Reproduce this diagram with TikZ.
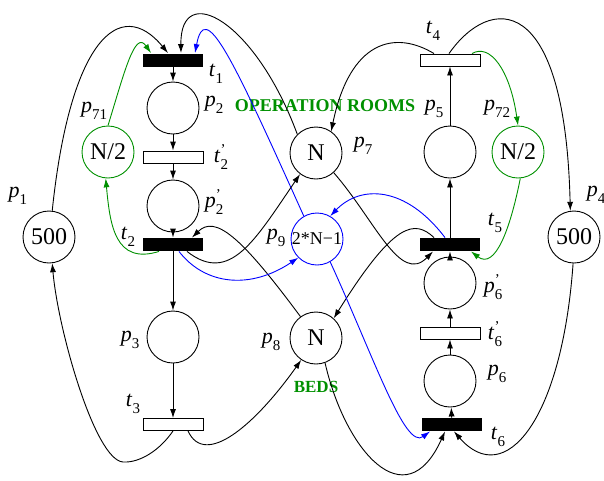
\documentclass[tikz,border=0pt]{standalone}
\usepackage{fontspec}
\setmainfont{Liberation Serif}
\usetikzlibrary{arrows.meta}
\definecolor{fgreen}{RGB}{0,144,0}
\definecolor{fblue}{RGB}{0,0,255}
\newcommand{\lbl}[3][]{\textit{#2}\makebox[0pt][l]{\raisebox{0.38em}{\fontsize{15}{15}\selectfont #1}}\raisebox{-0.3em}{\fontsize{15}{15}\selectfont #3}}
\begin{document}
\begin{tikzpicture}[x=1pt,y=-1pt,line width=0.9pt,>={Latex[length=9pt,width=6pt]},
  place/.style={circle,draw,minimum size=52pt,inner sep=0pt,font=\fontsize{24}{28}\selectfont},
  bar/.style={rectangle,fill=black,minimum width=60pt,minimum height=13pt,inner sep=0pt},
  tbox/.style={rectangle,draw,fill=white,minimum width=60pt,minimum height=12pt,inner sep=0pt},
  lab/.style={font=\fontsize{22}{26}\selectfont,inner sep=0pt},
  gtext/.style={text=fgreen,font=\fontsize{18}{20}\selectfont\bfseries,inner sep=0pt}]
\useasboundingbox (0,0) rectangle (604,480);
% left column
\node[bar] (t1) at (173,60) {};
\node[place] (p2) at (173,108) {};
\node[tbox] (t2p) at (173,157) {};
\node[place] (p2p) at (173,206) {};
\node[bar] (t2) at (173,244.5) {};
\node[place] (p3) at (173,337) {};
\node[tbox] (t3) at (173,424.5) {};
\node[place] (p1) at (49,237) {500};
\node[place,draw=fgreen] (p71) at (108,152) {N/2};
% middle
\node[place] (p7) at (316,153) {N};
\node[place,draw=fblue,font=\fontsize{18}{20}\selectfont] (p9) at (317,239) {2*N−1};
\node[place] (p8) at (316,338) {N};
% right column
\node[tbox] (t4) at (450,60) {};
\node[place] (p5) at (450,152) {};
\node[bar] (t5) at (450,244.5) {};
\node[place] (p6p) at (450,283) {};
\node[tbox] (t6p) at (450,333) {};
\node[place] (p6) at (450,381) {};
\node[bar] (t6) at (452,424.5) {};
\node[place,draw=fgreen] (p72) at (518,152) {N/2};
\node[place] (p4) at (574,237) {500};
% labels
\node[lab] (lt1) at (216,74) {\lbl{t}{1}};
\node[lab] (lp2) at (214,105) {\lbl{p}{2}};
\node[lab] (lt2p) at (221,157) {\lbl[’]{t}{2}};
\node[lab] (lp2p) at (214,202) {\lbl[’]{p}{2}};
\node[lab] (lt2) at (128,237) {\lbl{t}{2}};
\node[lab] (lp71) at (94,111) {\lbl{p}{71}};
\node[lab] (lp1) at (18,196) {\lbl{p}{1}};
\node[lab] (lp3) at (130,340) {\lbl{p}{3}};
\node[lab] (lt3) at (133,404) {\lbl{t}{3}};
\node[lab] (lp8) at (271,342) {\lbl{p}{8}};
\node[lab] (lp9) at (276,238) {\lbl{p}{9}};
\node[lab] (lp7) at (363,146) {\lbl{p}{7}};
\node[lab] (lt4) at (433,31) {\lbl{t}{4}};
\node[lab] (lp5) at (434,109) {\lbl{p}{5}};
\node[lab] (lp72) at (497,109) {\lbl{p}{72}};
\node[lab] (lp4) at (596,195) {\lbl{p}{4}};
\node[lab] (lt5) at (495,223) {\lbl{t}{5}};
\node[lab] (lp6p) at (493,287) {\lbl[’]{p}{6}};
\node[lab] (lt6p) at (495,334) {\lbl[’]{t}{6}};
\node[lab] (lp6) at (497,374) {\lbl{p}{6}};
\node[lab] (lt6) at (498,437) {\lbl{t}{6}};
\node[gtext] (ops) at (325,106) {OPERATION ROOMS};
\node[gtext,font=\fontsize{17}{20}\selectfont\bfseries] (beds) at (316,387) {BEDS};
% vertical arcs
\draw[->] (t1) -- (p2);
\draw[->] (p2) -- (t2p);
\draw[->] (t2p) -- (p2p);
\draw[->] (p2p) -- (t2);
\draw[->] (t2) -- (p3);
\draw[->] (p3) -- (t3);
\draw[->] (t6) -- (p6);
\draw[->] (p6) -- (t6p);
\draw[->] (t6p) -- (p6p);
\draw[->] (p6p) -- (t5);
\draw[->] (t5) -- (p5);
\draw[->] (p5) -- (t4);
% curved arcs
\draw[->] (p1.83) .. controls (70,40) and (120,-5) .. ([xshift=-5pt]t1.north);
\draw[->] (p7.135) .. controls (255,20) and (180,-20) .. ([xshift=8pt]t1.north);
\draw[->,fblue] (p9.120) .. controls (230,52) and (205,0) .. ([xshift=22pt]t1.north);
\draw[->,fgreen] (p71.north) .. controls (125,70) and (135,30) .. ([xshift=-22pt]t1.north);
\draw[->,fgreen] ([xshift=-14pt]t2.south) .. controls (115,265) and (110,225) .. (p71.265);
\draw[->] ([xshift=14pt]t2.south) .. controls (230,285) and (255,240) .. (p7.233);
\draw[->] (p8.126) .. controls (240,235) and (215,215) .. ([xshift=19pt]t2.north);
\draw[->,fblue] ([xshift=6pt]t2.south) .. controls (205,285) and (250,290) .. (p9.225);
\draw[->] (t3.south) .. controls (160,450) and (140,463) .. (123,462) .. controls (95,460) and (58,330) .. (p1.277);
\draw[->] ([xshift=15pt]t3.south) .. controls (205,468) and (255,425) .. (p8.236);
\draw[->] (p7.312) .. controls (375,220) and (400,285) .. ([xshift=-17pt]t5.south);
\draw[->] ([xshift=-16pt]t5.north) .. controls (415,220) and (395,220) .. (p8.48);
\draw[->,fblue] ([xshift=-5pt]t5.north) .. controls (405,185) and (360,185) .. (p9.60);
\draw[->,fblue] (p9.300) .. controls (375,360) and (405,450) .. ([xshift=-22pt]t6.south);
\draw[->] (p8.290) .. controls (345,450) and (405,520) .. ([xshift=-7pt]t6.south);
\draw[->] (p4.268) .. controls (562,420) and (505,490) .. ([xshift=2pt]t6.south);
\draw[->] ([xshift=-16pt]t4.north) .. controls (395,30) and (350,40) .. (p7.55);
\draw[->] ([xshift=-1pt]t4.north) .. controls (490,-5) and (565,-10) .. (p4.98);
\draw[->,fgreen] ([xshift=22pt]t4.north) .. controls (490,43) and (510,70) .. (p72.north);
\draw[->,fgreen] (p72.275) .. controls (510,230) and (495,270) .. ([xshift=21pt]t5.south);
\end{tikzpicture}
\end{document}
